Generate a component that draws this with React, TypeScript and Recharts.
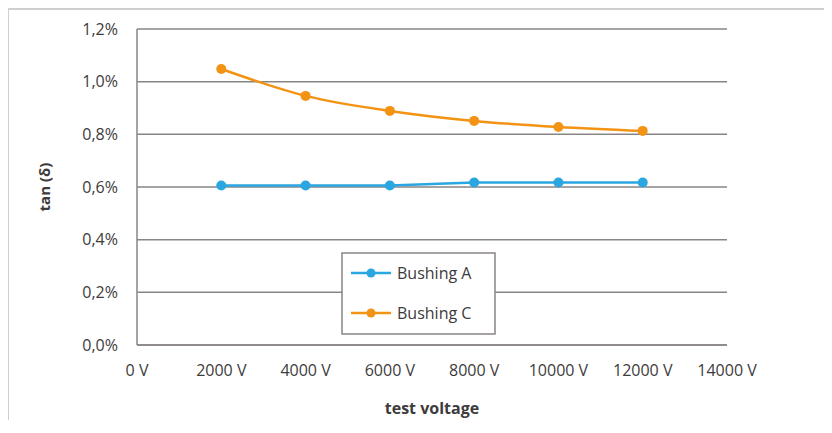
import React from 'react';
import { LineChart, Line, XAxis, YAxis, CartesianGrid, Legend } from 'recharts';

const voltages = [2000, 4000, 6000, 8000, 10000, 12000];
const bushingA = [0.606, 0.606, 0.606, 0.617, 0.617, 0.617];
const bushingC = [1.048, 0.946, 0.889, 0.851, 0.828, 0.813];
const xTicks = [0, 2000, 4000, 6000, 8000, 10000, 12000, 14000];
const yTicks = [0, 0.2, 0.4, 0.6, 0.8, 1.0, 1.2];
const seriesNames = ['Bushing A', 'Bushing C'];

const BLUE = '#2aa7e0';
const ORANGE = '#f39314';
const GRID = '#8a8585';
const TEXT = '#3d3b3b';
const FONT = '"Open Sans", sans-serif';

const data = voltages.map((v, i) => ({ v, a: bushingA[i], c: bushingC[i] }));

const LegendBox = () => (
  <svg width={156} height={84} style={{ display: 'block' }}>
    <rect x={1} y={1} width={153} height={81} fill="#fff" stroke={GRID} strokeWidth={1.5} />
    {[BLUE, ORANGE].map((col, i) => (
      <g key={i}>
        <line x1={10} x2={50} y1={21 + i * 40} y2={21 + i * 40} stroke={col} strokeWidth={2.5} />
        <circle cx={30} cy={21 + i * 40} r={4.5} fill={col} />
        <text x={56} y={21 + i * 40} dy="0.35em" fontFamily={FONT} fontSize={16} fill={TEXT}>
          {seriesNames[i]}
        </text>
      </g>
    ))}
  </svg>
);

export default function App() {
  return (
    <div
      style={{
        marginLeft: -1,
        width: 820,
        height: 410,
        borderTop: '2px solid #cfcfcf',
        borderLeft: '2px solid #cfcfcf',
        background: '#fff',
      }}
    >
      <LineChart
        width={810}
        height={408}
        data={data}
        margin={{ top: 19, right: 92, left: 0, bottom: 0 }}
        style={{ fontFamily: FONT }}
      >
        <CartesianGrid vertical={false} stroke={GRID} strokeWidth={1.5} />
        <XAxis
          dataKey="v"
          type="number"
          domain={[0, 14000]}
          ticks={xTicks}
          tickFormatter={(v: number) => `${v} V`}
          height={73}
          tickSize={0}
          tickMargin={20}
          axisLine={{ stroke: GRID, strokeWidth: 1.5 }}
          tick={{ fill: TEXT, fontSize: 16, fontFamily: FONT }}
          label={{
            value: 'test voltage',
            position: 'insideBottom',
            offset: 4,
            style: { fill: TEXT, fontSize: 16, fontWeight: 'bold', fontFamily: FONT },
          }}
        />
        <YAxis
          type="number"
          domain={[0, 1.2]}
          ticks={yTicks}
          tickFormatter={(v: number) => `${v.toFixed(1).replace('.', ',')}%`}
          width={128}
          tickSize={0}
          tickMargin={19}
          axisLine={{ stroke: GRID, strokeWidth: 1.5 }}
          tick={{ fill: TEXT, fontSize: 16, fontFamily: FONT }}
          label={{
            value: 'tan (δ)',
            angle: -90,
            position: 'insideLeft',
            offset: 36,
            style: { textAnchor: 'middle', fill: TEXT, fontSize: 15, fontWeight: 'bold', fontFamily: FONT },
          }}
        />
        <Line
          dataKey="a"
          name={seriesNames[0]}
          type="linear"
          stroke={BLUE}
          strokeWidth={2.5}
          dot={{ r: 5, fill: BLUE, stroke: BLUE, strokeWidth: 0 }}
          isAnimationActive={false}
        />
        <Line
          dataKey="c"
          name={seriesNames[1]}
          type="monotone"
          stroke={ORANGE}
          strokeWidth={2.5}
          dot={{ r: 5, fill: ORANGE, stroke: ORANGE, strokeWidth: 0 }}
          isAnimationActive={false}
        />
        <Legend
          layout="vertical"
          align="center"
          verticalAlign="middle"
          content={() => <LegendBox />}
          wrapperStyle={{ position: 'absolute', left: 332, top: 242, width: 156, height: 84 }}
        />
      </LineChart>
    </div>
  );
}
